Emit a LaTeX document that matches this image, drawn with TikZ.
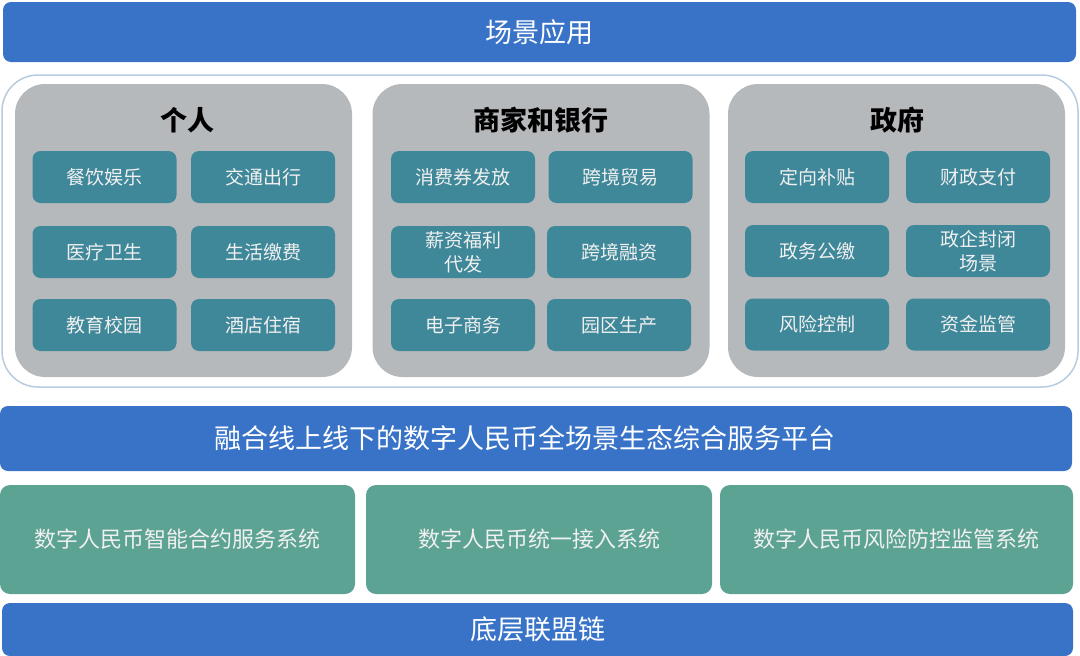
\documentclass[tikz,border=0pt]{standalone}
\usepackage{fontspec}
\setmainfont{Noto Sans CJK SC}
\usetikzlibrary{positioning}
\definecolor{barblue}{HTML}{3873C8}
\definecolor{panelgray}{HTML}{B6B9BC}
\definecolor{itemteal}{HTML}{3F889A}
\definecolor{sysgreen}{HTML}{5CA394}
\definecolor{frameline}{HTML}{B7CCE0}

\begin{document}
\begin{tikzpicture}[x=1pt, y=-1pt, bar/.style = {rectangle, fill=barblue,
					rounded corners=8pt, text=white, inner sep=0pt}, frame/.style = {draw=frameline,
					line width=1.5pt, fill=white, rounded corners=36pt}, panel/.style =
				{rectangle, fill=panelgray, rounded corners=30pt, minimum width=337pt,
					minimum height=293pt}, title/.style = {font=\fontsize{27}{30}\selectfont\bfseries,
					text=black}, item/.style = {rectangle, fill=itemteal, rounded corners=8pt,
					minimum width=144pt, minimum height=52pt, inner sep=0pt, align=center,
					text=white!94!black, font=\fontsize{19}{24}\selectfont}, sysbox/.style =
				{rectangle, fill=sysgreen, rounded corners=10pt, minimum height=109pt,
					inner sep=0pt, text=white!94!black, font=\fontsize{22}{26}\selectfont}
		]
		\useasboundingbox (0,0) rectangle (1080,656);

		% Top bar
		\node [bar, minimum width=1073pt, minimum height=60pt,
			font=\fontsize{27}{30}\selectfont] (scene) at (539.5,32) {场景应用};

		% Frame and panels
		\draw [frame] (2,75) rectangle (1078,387);
		\node [panel] (P1) at (183.5,230.5) {}; \node [panel] (P2) at
		(541,230.5) {}; \node [panel] (P3) at (896.5,230.5) {};

		\node [title] (T1) at (187,120) {个人}; \node [title] (T2) at
		(541,120) {商家和银行}; \node [title] (T3) at (897,120) {政府};

		% Personal
		\node [item] (A1) at (104.5,177) {餐饮娱乐}; \node [item] (A2) at
		(263,177) {交通出行}; \node [item] (A3) at (104.5,252) {医疗卫生};
		\node [item] (A4) at (263,252) {生活缴费}; \node [item] (A5) at
		(104.5,325) {教育校园}; \node [item] (A6) at (263,325) {酒店住宿};

		% Merchants and banks
		\node [item] (B1) at (463,177) {消费券发放}; \node [item] (B2) at
		(620.5,177) {跨境贸易}; \node [item] (B3) at (463,252) {薪资福利\\代发};
		\node [item] (B4) at (619,252) {跨境融资}; \node [item] (B5) at
		(463,325) {电子商务}; \node [item] (B6) at (619,325) {园区生产};

		% Government
		\node [item] (C1) at (817,177) {定向补贴}; \node [item] (C2) at
		(978,177) {财政支付}; \node [item] (C3) at (817,251) {政务公缴};
		\node [item] (C4) at (978,251) {政企封闭\\场景}; \node [item] (C5) at
		(817,324.5) {风险控制}; \node [item] (C6) at (978,324.5) {资金监管};

		% Platform
		\node [bar, minimum width=1072pt, minimum height=65pt,
			font=\fontsize{27}{30}\selectfont] (platform) at (536,438.5)
		{融合线上线下的数字人民币全场景生态综合服务平台\kern22pt};

		% Systems
		\node [sysbox, minimum width=355pt] (S1) at (177.5,539.5)
		{数字人民币智能合约服务系统}; \node [sysbox, minimum width=346pt] (S2) at
		(539,539.5) {数字人民币统一接入系统}; \node [sysbox, minimum width=353pt]
		(S3) at (896.5,539.5) {数字人民币风险防控监管系统};

		% Bottom bar
		\node [bar, minimum width=1071pt, minimum height=53pt,
			font=\fontsize{27}{30}\selectfont] (chain) at (537.5,629.5) {底层联盟链};
	\end{tikzpicture}
\end{document}
